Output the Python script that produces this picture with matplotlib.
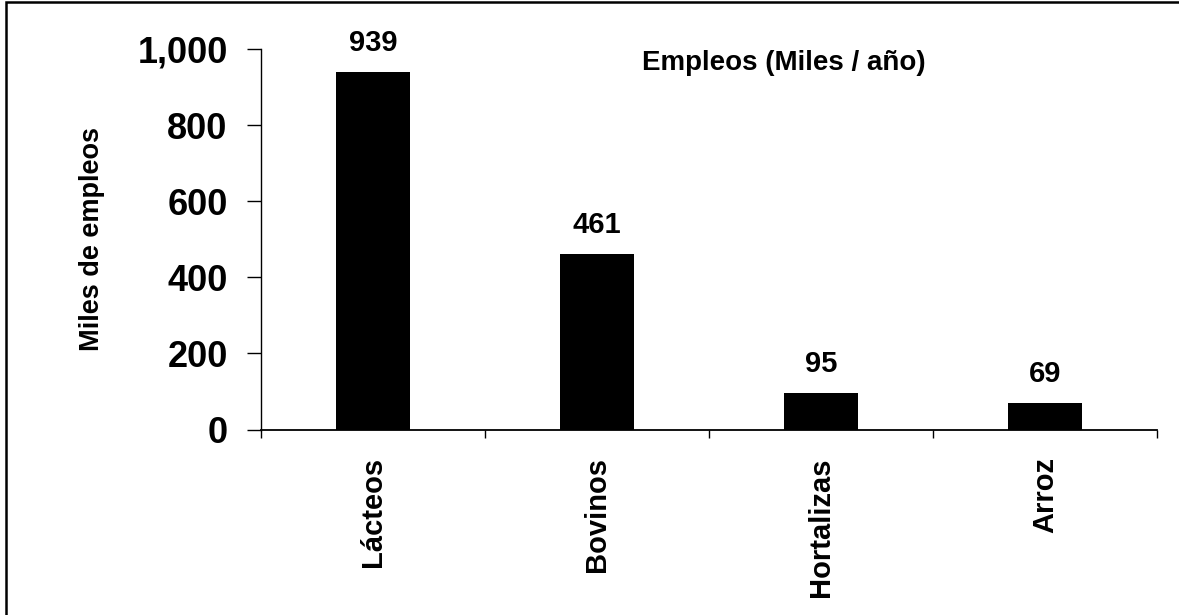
import matplotlib.pyplot as plt
from matplotlib.patches import Rectangle

plt.rcParams['font.family'] = ['Liberation Sans', 'DejaVu Sans']
plt.rcParams['font.weight'] = 'bold'

categorias = ["Lácteos", "Bovinos", "Hortalizas", "Arroz"]
empleos = [939, 461, 95, 69]
yticks = [0, 200, 400, 600, 800, 1000]
ytick_labels = ["0", "200", "400", "600", "800", "1,000"]

fig = plt.figure(figsize=(11.79, 6.15), dpi=100)
ax = fig.add_axes([261 / 1179, 1 - 429.5 / 615, (1157 - 261) / 1179, (429.5 - 49) / 615])

x = range(len(categorias))
ax.bar(x, empleos, width=0.33, color="black")
for xi, v in zip(x, empleos):
    ax.annotate(str(v), (xi, v), xytext=(0, 11), textcoords="offset points",
                ha="center", va="bottom", fontsize=21, fontweight="bold")

ax.set_xlim(-0.5, len(categorias) - 0.5)
ax.set_ylim(0, 1000)
ax.set_yticks(yticks)
ax.set_yticklabels(ytick_labels, fontsize=26, fontweight="bold")
ax.tick_params(axis="y", direction="out", length=10, width=1, pad=14)

# category names centred, separator ticks between categories
ax.set_xticks(list(x))
ax.set_xticklabels(categorias, rotation=90, fontsize=21, fontweight="bold")
ax.tick_params(axis="x", length=0, pad=20)
ax.set_xticks([i - 0.5 for i in range(len(categorias) + 1)], minor=True)
ax.tick_params(axis="x", which="minor", direction="out", length=6, width=1)

for s in ["top", "right"]:
    ax.spines[s].set_visible(False)
ax.spines["left"].set_linewidth(1)
ax.spines["bottom"].set_linewidth(1.3)

ax.set_ylabel("Miles de empleos", fontsize=19.5, fontweight="bold")
ax.yaxis.set_label_coords(-0.174, 0.5)

ax.text(0.584, 0.963, "Empleos (Miles / año)", transform=ax.transAxes,
        ha="center", va="center", fontsize=20, fontweight="bold")

# frame around the whole chart, open at right and bottom
fig.patches.append(Rectangle((6 / 1179, -0.1), 1.2, 1 - 2 / 615 + 0.1,
                             transform=fig.transFigure, fill=False,
                             edgecolor="black", linewidth=1.8))

fig.savefig("out.png", dpi=100)
